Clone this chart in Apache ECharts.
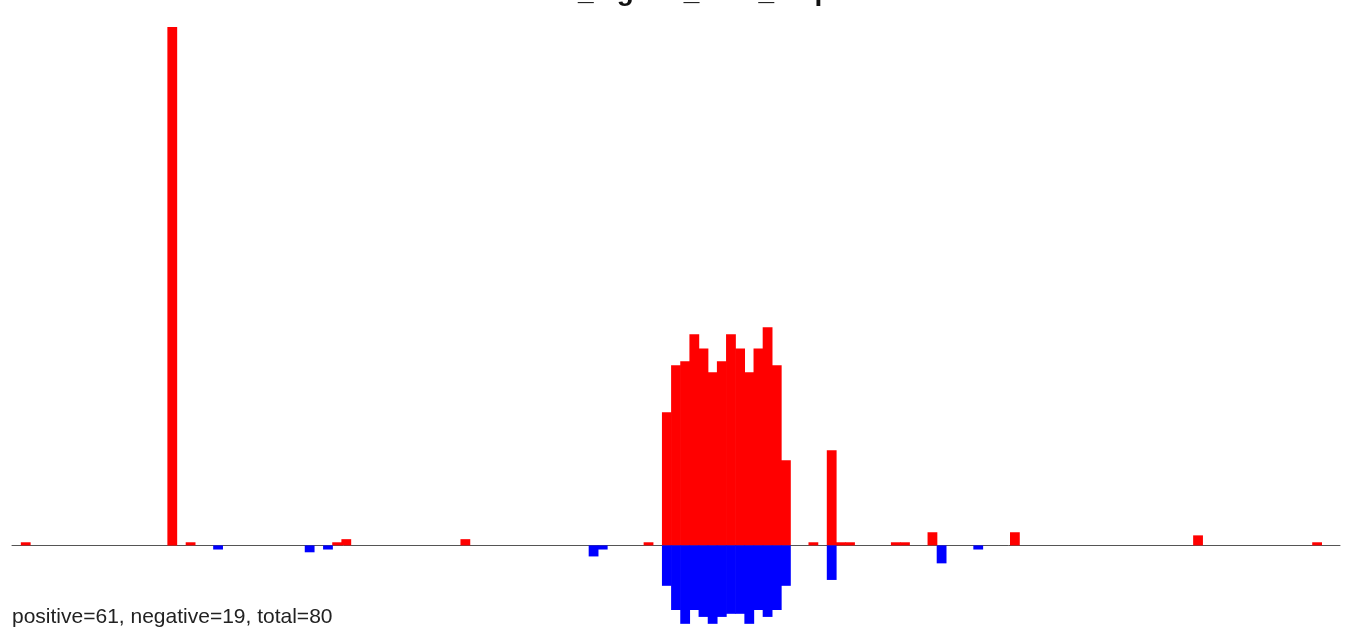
<!DOCTYPE html>
<html>
<head>
<meta charset="utf-8">
<script src="https://cdn.jsdelivr.net/npm/echarts@6/dist/echarts.min.js"></script>
<style>
html,body{margin:0;padding:0;background:#fff;}
#chart{width:1352px;height:637px;}
</style>
</head>
<body>
<div id="chart"></div>
<script>
// Data
const titleText = "bins_signed_bars_step";
const footerText = "positive=61, negative=19, total=80";
const binCount = 145;
const categories = Array.from({length: binCount}, (_, i) => String(i));

const positiveBins   = [1, 17, 19, 35, 36, 49, 69, 71, 72, 73, 74, 75, 76, 77, 78, 79, 80, 81, 82, 83, 84, 87, 89, 90, 91, 96, 97, 100, 109, 129, 142];
const positiveValues = [0.9, 150, 0.9, 0.9, 1.8, 1.8, 0.9, 38.5, 52.1, 53.3, 61.1, 57.0, 50.1, 53.3, 61.1, 57.0, 50.1, 57.0, 63.1, 52.1, 24.6, 0.9, 27.5, 0.9, 0.9, 0.9, 0.9, 3.8, 3.8, 2.9, 0.9];

const negativeBins   = [22, 32, 34, 63, 64, 71, 72, 73, 74, 75, 76, 77, 78, 79, 80, 81, 82, 83, 84, 89, 101, 105];
const negativeValues = [-1.2, -2.0, -1.2, -3.2, -1.2, -11.7, -18.7, -22.7, -18.7, -20.7, -22.7, -20.7, -19.8, -19.8, -22.7, -18.7, -20.7, -18.7, -11.7, -10.0, -5.2, -1.2];

const posData = positiveBins.map((b, i) => [b, positiveValues[i]]);
const negData = negativeBins.map((b, i) => [b, negativeValues[i]]);

const chart = echarts.init(document.getElementById('chart'), null, {renderer: 'canvas'});
chart.setOption({
  animation: false,
  backgroundColor: '#ffffff',
  title: [
    {
      text: titleText,
      left: 'center',
      top: -22,
      padding: 0,
      textStyle: {fontFamily: 'Liberation Sans, Arial, sans-serif', fontSize: 28, fontWeight: 'bold', color: '#111'}
    },
    {
      text: footerText,
      left: 12,
      top: 607,
      padding: 0,
      textStyle: {fontFamily: 'Liberation Sans, Arial, sans-serif', fontSize: 21, fontWeight: 'normal', color: '#222'}
    }
  ],
  grid: {left: 12, right: 12, top: 27, bottom: 13, containLabel: false},
  xAxis: {
    type: 'category',
    data: categories,
    boundaryGap: true,
    axisLine: {show: true, onZero: true, lineStyle: {color: '#555', width: 1}},
    axisTick: {show: false},
    axisLabel: {show: false},
    splitLine: {show: false}
  },
  yAxis: {
    type: 'value',
    min: -22.75,
    max: 150,
    show: false,
    splitLine: {show: false}
  },
  series: [
    {
      name: 'positive',
      type: 'bar',
      data: posData,
      barWidth: 9.8,
      barGap: '-100%',
      itemStyle: {color: '#ff0000'}
    },
    {
      name: 'negative',
      type: 'bar',
      data: negData,
      barWidth: 9.8,
      barGap: '-100%',
      itemStyle: {color: '#0000ff'}
    }
  ]
});
</script>
</body>
</html>
